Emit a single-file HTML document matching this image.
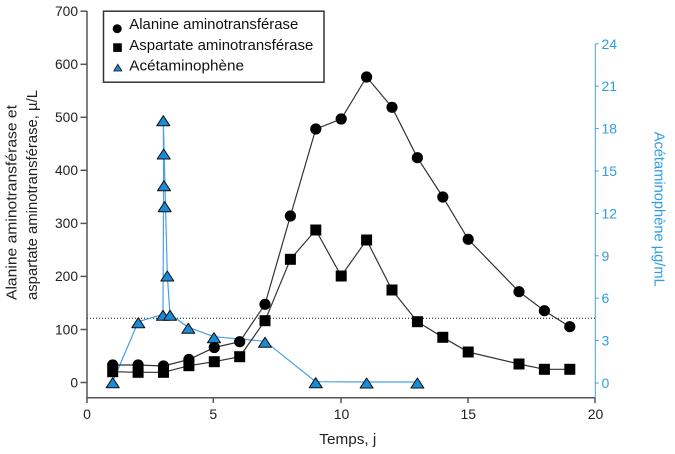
<!DOCTYPE html>
<html>
<head>
<meta charset="utf-8">
<style>
html,body{margin:0;padding:0;background:#fff;}
svg{display:block;}
text{font-family:"Liberation Sans", Arial, sans-serif;}
</style>
</head>
<body>
<svg width="675" height="454" viewBox="0 0 675 454" xmlns="http://www.w3.org/2000/svg">
<rect x="0" y="0" width="675" height="454" fill="#fff"/>

<!-- dotted reference line -->
<line x1="87" y1="318.3" x2="595" y2="318.3" stroke="#111" stroke-width="1" stroke-dasharray="1,2"/>

<!-- left axis -->
<g stroke="#555" stroke-width="1.5" fill="none">
<line x1="87" y1="11" x2="87" y2="403"/>
<line x1="86.3" y1="397.7" x2="595.5" y2="397.7"/>
<line x1="80.5" y1="382.5" x2="87" y2="382.5"/>
<line x1="80.5" y1="329.5" x2="87" y2="329.5"/>
<line x1="80.5" y1="276.4" x2="87" y2="276.4"/>
<line x1="80.5" y1="223.4" x2="87" y2="223.4"/>
<line x1="80.5" y1="170.3" x2="87" y2="170.3"/>
<line x1="80.5" y1="117.3" x2="87" y2="117.3"/>
<line x1="80.5" y1="64.3" x2="87" y2="64.3"/>
<line x1="80.5" y1="11.2" x2="87" y2="11.2"/>
<line x1="213.3" y1="397.7" x2="213.3" y2="403"/>
<line x1="341" y1="397.7" x2="341" y2="403"/>
<line x1="468" y1="397.7" x2="468" y2="403"/>
<line x1="595" y1="397.7" x2="595" y2="403"/>
</g>
<g font-size="13.8" fill="#222" text-anchor="end">
<text x="78" y="387.3">0</text>
<text x="78" y="334.3">100</text>
<text x="78" y="281.2">200</text>
<text x="78" y="228.2">300</text>
<text x="78" y="175.1">400</text>
<text x="78" y="122.1">500</text>
<text x="78" y="69.1">600</text>
<text x="78" y="16">700</text>
</g>
<g font-size="14" fill="#222" text-anchor="middle">
<text x="87" y="419">0</text>
<text x="213.3" y="419">5</text>
<text x="341.5" y="419">10</text>
<text x="468.3" y="419">15</text>
<text x="595.5" y="419">20</text>
</g>

<!-- right axis -->
<g stroke="#4a9fe6" stroke-width="1" fill="none">
<line x1="595.3" y1="43.8" x2="595.3" y2="397.7"/>
<line x1="595.3" y1="43.8" x2="598.8" y2="43.8"/>
<line x1="595.3" y1="86.2" x2="598.8" y2="86.2"/>
<line x1="595.3" y1="128.6" x2="598.8" y2="128.6"/>
<line x1="595.3" y1="171" x2="598.8" y2="171"/>
<line x1="595.3" y1="213.4" x2="598.8" y2="213.4"/>
<line x1="595.3" y1="255.8" x2="598.8" y2="255.8"/>
<line x1="595.3" y1="298.2" x2="598.8" y2="298.2"/>
<line x1="595.3" y1="340.6" x2="598.8" y2="340.6"/>
<line x1="595.3" y1="383" x2="598.8" y2="383"/>
</g>
<g font-size="14" fill="#2f9de4">
<text x="601.5" y="48.8">24</text>
<text x="601.5" y="91.2">21</text>
<text x="601.5" y="133.6">18</text>
<text x="601.5" y="176">15</text>
<text x="601.5" y="218.4">12</text>
<text x="601.5" y="260.8">9</text>
<text x="601.5" y="303.2">6</text>
<text x="601.5" y="345.6">3</text>
<text x="601.5" y="388">0</text>
</g>

<!-- axis labels -->
<text font-size="14.5" fill="#222" transform="translate(16.7,300) rotate(-90)" textLength="195" lengthAdjust="spacingAndGlyphs">Alanine aminotransférase et</text>
<text font-size="14.5" fill="#222" transform="translate(36.8,300) rotate(-90)" textLength="210" lengthAdjust="spacingAndGlyphs">aspartate aminotransférase, µ/L</text>
<text font-size="14.5" fill="#2f9de4" transform="translate(654.5,131.7) rotate(90)" textLength="155" lengthAdjust="spacingAndGlyphs">Acétaminophène µg/mL</text>
<text font-size="15" fill="#222" x="319.3" y="444" textLength="57" lengthAdjust="spacingAndGlyphs">Temps, j</text>

<!-- acetaminophen series -->
<polyline fill="none" stroke="#4a9fe6" stroke-width="1.2" points="112.7,381.7 138.3,321.7 163,314.3 163.5,206 163.5,185 163.5,153 163.3,120 167.3,275 170,314.3 188.3,327.3 214,336.7 265,341.3 315.7,381.7 366.6,382 417.4,382"/>
<g fill="#1a8bd6" stroke="#111" stroke-width="1" stroke-linejoin="round">
<polygon points="112.7,377.7 106.2,387.7 119.2,387.7"/>
<polygon points="138.3,317.7 131.8,327.7 144.8,327.7"/>
<polygon points="163,310.3 156.5,320.3 169.5,320.3"/>
<polygon points="170,310.3 163.5,320.3 176.5,320.3"/>
<polygon points="167.3,271 160.8,281 173.8,281"/>
<polygon points="164.7,201.7 158.2,211.7 171.2,211.7"/>
<polygon points="164,180.7 157.5,190.7 170.5,190.7"/>
<polygon points="163.7,149 157.2,159 170.2,159"/>
<polygon points="163.3,115.7 156.8,125.7 169.8,125.7"/>
<polygon points="188.3,323.3 181.8,333.3 194.8,333.3"/>
<polygon points="214,332.7 207.5,342.7 220.5,342.7"/>
<polygon points="265,337.3 258.5,347.3 271.5,347.3"/>
<polygon points="315.7,377.7 309.2,387.7 322.2,387.7"/>
<polygon points="366.6,378 360.1,388 373.1,388"/>
<polygon points="417.4,378 410.9,388 423.9,388"/>
</g>

<!-- ALT line -->
<polyline fill="none" stroke="#333" stroke-width="1.2" points="112.7,365 138.1,365 163.5,366 188.9,359.5 214.3,347.5 239.7,341.7 265,304.3 290.4,216 315.8,129 341.2,119 366.6,77 392,107.3 417.4,157.7 442.8,197 468.2,239.3 519,291.7 544.4,310.7 569.8,326.7"/>
<!-- AST line -->
<polyline fill="none" stroke="#333" stroke-width="1.2" points="112.7,371.7 138.1,372.3 163.5,372.3 188.9,365.7 214.3,361.7 239.7,356.7 265,320.7 290.4,259.3 315.8,230 341.2,276 366.6,240 392,290 417.4,321.7 442.8,337.3 468.2,352 519,364 544.4,369.3 569.8,369.3"/>

<g fill="#000">
<circle cx="112.7" cy="365" r="5.6"/>
<circle cx="138.1" cy="365" r="5.6"/>
<circle cx="163.5" cy="366" r="5.6"/>
<circle cx="188.9" cy="359.5" r="5.6"/>
<circle cx="214.3" cy="347.5" r="5.6"/>
<circle cx="239.7" cy="341.7" r="5.6"/>
<circle cx="265" cy="304.3" r="5.6"/>
<circle cx="290.4" cy="216" r="5.6"/>
<circle cx="315.8" cy="129" r="5.6"/>
<circle cx="341.2" cy="119" r="5.6"/>
<circle cx="366.6" cy="77" r="5.6"/>
<circle cx="392" cy="107.3" r="5.6"/>
<circle cx="417.4" cy="157.7" r="5.6"/>
<circle cx="442.8" cy="197" r="5.6"/>
<circle cx="468.2" cy="239.3" r="5.6"/>
<circle cx="519" cy="291.7" r="5.6"/>
<circle cx="544.4" cy="310.7" r="5.6"/>
<circle cx="569.8" cy="326.7" r="5.6"/>
</g>
<g fill="#000">
<rect x="107.2" y="366.2" width="11" height="11"/>
<rect x="132.6" y="366.8" width="11" height="11"/>
<rect x="158" y="366.8" width="11" height="11"/>
<rect x="183.4" y="360.2" width="11" height="11"/>
<rect x="208.8" y="356.2" width="11" height="11"/>
<rect x="234.2" y="351.2" width="11" height="11"/>
<rect x="259.5" y="315.2" width="11" height="11"/>
<rect x="284.9" y="253.8" width="11" height="11"/>
<rect x="310.3" y="224.5" width="11" height="11"/>
<rect x="335.7" y="270.5" width="11" height="11"/>
<rect x="361.1" y="234.5" width="11" height="11"/>
<rect x="386.5" y="284.5" width="11" height="11"/>
<rect x="411.9" y="316.2" width="11" height="11"/>
<rect x="437.3" y="331.8" width="11" height="11"/>
<rect x="462.7" y="346.5" width="11" height="11"/>
<rect x="513.5" y="358.5" width="11" height="11"/>
<rect x="538.9" y="363.8" width="11" height="11"/>
<rect x="564.3" y="363.8" width="11" height="11"/>
</g>

<!-- legend -->
<rect x="103.5" y="11.2" width="220.5" height="71" fill="#fff" stroke="#333" stroke-width="1.5"/>
<circle cx="117.2" cy="28.7" r="4.5" fill="#000"/>
<rect x="113.2" y="43.3" width="8.6" height="8.6" fill="#000"/>
<polygon points="117.8,64.3 113.8,71 121.8,71" fill="#1a8bd6" stroke="#111" stroke-width="0.8"/>
<g font-size="14.5" fill="#111">
<text x="129.3" y="29" textLength="169" lengthAdjust="spacingAndGlyphs">Alanine aminotransférase</text>
<text x="129.3" y="50" textLength="184" lengthAdjust="spacingAndGlyphs">Aspartate aminotransférase</text>
<text x="129.3" y="70.5" textLength="114.7" lengthAdjust="spacingAndGlyphs">Acétaminophène</text>
</g>
</svg>
</body>
</html>
